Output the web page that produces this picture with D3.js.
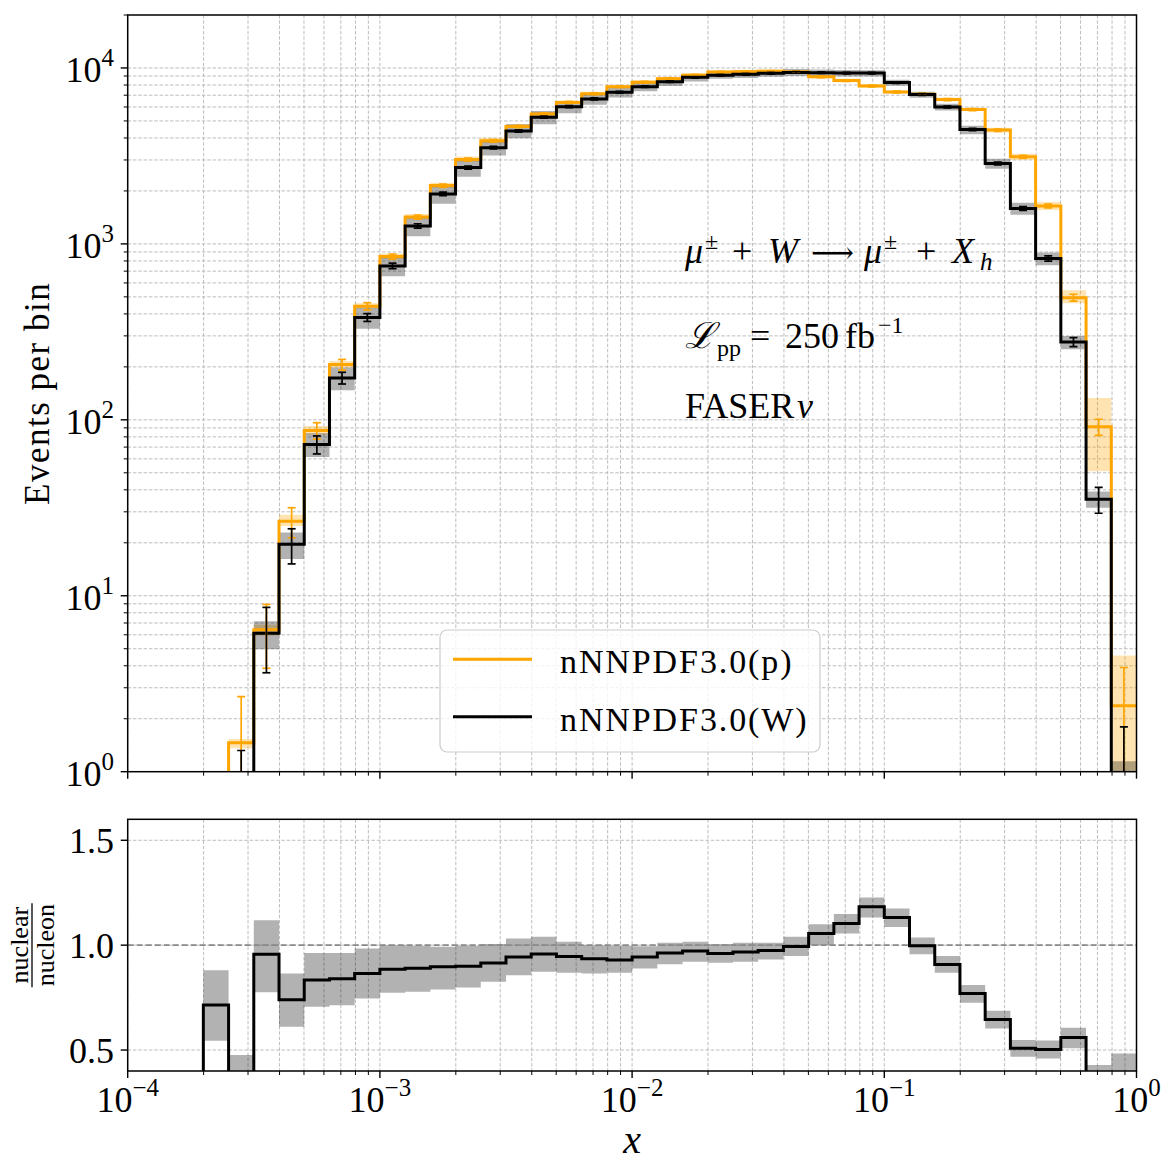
<!DOCTYPE html>
<html>
<head>
<meta charset="utf-8">
<script src="https://cdn.jsdelivr.net/npm/d3@7"></script>
<style>
body { margin: 0; background: #fff; }
svg text { font-family: "Liberation Serif", "DejaVu Serif", serif; fill: #000; }
</style>
</head>
<body>
<svg id="chart" width="1176" height="1176"></svg>
<script>
// bin edges in x (10 log bins per decade)
var binEdges = [
	1.000e-4, 1.259e-4, 1.585e-4, 1.995e-4, 2.512e-4, 3.162e-4, 3.981e-4, 5.012e-4, 6.310e-4, 7.943e-4,
	1.000e-3, 1.259e-3, 1.585e-3, 1.995e-3, 2.512e-3, 3.162e-3, 3.981e-3, 5.012e-3, 6.310e-3, 7.943e-3,
	1.000e-2, 1.259e-2, 1.585e-2, 1.995e-2, 2.512e-2, 3.162e-2, 3.981e-2, 5.012e-2, 6.310e-2, 7.943e-2,
	1.000e-1, 1.259e-1, 1.585e-1, 1.995e-1, 2.512e-1, 3.162e-1, 3.981e-1, 5.012e-1, 6.310e-1, 7.943e-1,
	1.0
];

// events per bin, nNNPDF3.0(p)
var protonEvents = [
	0, 0, 0, 0.28, 1.46, 6.4, 26.5, 87, 206, 442,
	847, 1422, 2144, 3018, 3852, 4645, 5480, 6370, 7135, 7830,
	8295, 8690, 9105, 9480, 9525, 9570, 9490, 8910, 8477, 7904,
	7297, 7081, 6608, 5801, 4433, 3128, 1642, 495, 91.2, 2.37
];
// events per bin, nNNPDF3.0(W)
var nuclearEvents = [
	0, 0, 0, 0.2, 0.57, 6.12, 19.6, 72.5, 173, 382,
	750, 1266, 1923, 2716, 3525, 4385, 5250, 6025, 6670, 7280,
	7830, 8360, 8850, 9100, 9210, 9330, 9430, 9400, 9350, 9350,
	8260, 7060, 6000, 4467, 2864, 1589, 826, 277, 35.4, 0.87
];

// statistical error bars
var protonErr = [
	0, 0, 0, 0.53, 1.21, 2.53, 5.15, 9.3, 14.4, 21.0,
	29.1, 37.7, 46.3, 54.9, 62.1, 68.2, 74.0, 79.8, 84.5, 88.5,
	91.1, 93.2, 95.4, 97.4, 97.6, 97.8, 97.4, 94.4, 92.1, 88.9,
	85.4, 84.1, 81.3, 76.2, 66.6, 55.9, 40.5, 22.2, 9.55, 1.54
];
var nuclearErr = [
	0, 0, 0, 0.45, 0.75, 2.47, 4.43, 8.5, 13.2, 19.5,
	27.4, 35.6, 43.9, 52.1, 59.4, 66.2, 72.5, 77.6, 81.7, 85.3,
	88.5, 91.4, 94.1, 95.4, 96.0, 96.6, 97.1, 97.0, 96.7, 96.7,
	90.9, 84.0, 77.5, 66.8, 53.5, 39.9, 28.7, 16.6, 5.95, 0.93
];

// PDF band of the proton prediction, relative to its central value
var protonBandLo = [
	null, null, null, 0.90, 0.93, 0.93, 0.94, 0.95, 0.96, 0.97,
	0.97, 0.97, 0.97, 0.97, 0.97, 0.98, 0.98, 0.98, 0.98, 0.98,
	0.98, 0.98, 0.98, 0.98, 0.98, 0.98, 0.98, 0.98, 0.98, 0.98,
	0.98, 0.98, 0.98, 0.98, 0.97, 0.96, 0.95, 0.93, 0.56, 0.20
];
var protonBandHi = [
	null, null, null, 1.10, 1.05, 1.07, 1.09, 1.06, 1.05, 1.04,
	1.04, 1.04, 1.04, 1.04, 1.04, 1.03, 1.025, 1.025, 1.025, 1.025,
	1.025, 1.025, 1.025, 1.025, 1.025, 1.025, 1.025, 1.025, 1.025, 1.025,
	1.025, 1.025, 1.025, 1.025, 1.03, 1.04, 1.055, 1.10, 1.46, 1.93
];

// nuclear PDF band divided by the proton central value
var ratioBandLo = [
	null, null, null, 0.544, 0.10, 0.776, 0.611, 0.706, 0.714, 0.746,
	0.773, 0.778, 0.789, 0.798, 0.825, 0.857, 0.873, 0.868, 0.865, 0.868,
	0.889, 0.909, 0.921, 0.916, 0.921, 0.932, 0.948, 1.000, 1.056, 1.132,
	1.087, 0.957, 0.868, 0.725, 0.603, 0.468, 0.460, 0.508, 0.347, 0.10
];
var ratioBandHi = [
	null, null, null, 0.880, 0.476, 1.119, 0.865, 0.963, 0.963, 0.984,
	1.000, 0.997, 0.992, 0.997, 1.005, 1.032, 1.040, 1.016, 1.000, 0.997,
	0.995, 1.011, 1.016, 1.005, 1.011, 1.011, 1.040, 1.100, 1.148, 1.227,
	1.175, 1.036, 0.948, 0.810, 0.687, 0.548, 0.545, 0.606, 0.429, 0.484
];

var xTickExp = [-4, -3, -2, -1, 0];
var yTickExp = [0, 1, 2, 3, 4];
var ratioTicks = ['0.5', '1.0', '1.5'];

var orange = '#FFA500';
var lineW = 3;
var floorVal = 1e-3;

var svg = d3.select('#chart');
var xLeft = 127.7, xRight = 1136.5;
var top1 = 15, bot1 = 771.7, top2 = 819.3, bot2 = 1071;

var x = d3.scaleLog().domain([1e-4, 1]).range([xLeft, xRight]);
var yTop = d3.scaleLog().domain([1, 2e4]).range([bot1, top1]);
var yRat = d3.scaleLinear().domain([0.4, 1.6]).range([bot2, top2]);

var defs = svg.append('defs');
defs.append('clipPath').attr('id', 'clipTop').append('rect')
	.attr('x', xLeft).attr('y', top1).attr('width', xRight - xLeft).attr('height', bot1 - top1);
defs.append('clipPath').attr('id', 'clipRat').append('rect')
	.attr('x', xLeft).attr('y', top2).attr('width', xRight - xLeft).attr('height', bot2 - top2);

function isMajor(v){
	let l = Math.log10(v);
	return Math.abs(l - Math.round(l)) < 1e-6;
}

function safeLog(v){
	return (v == null || v <= 0) ? floorVal : v;
}

// points for a step curve: one per bin plus the closing edge
function stepPoints(vals, start){
	let pts = [];
	for(let k = start; k < vals.length; k++)
		pts.push({x: binEdges[k], k: k, v: vals[k]});
	pts.push({x: binEdges[vals.length], k: vals.length - 1, v: vals[vals.length - 1]});
	return pts;
}

function drawGrid(g, yScale, yVals, y0, y1){
	x.ticks().forEach(function(t){
		g.append('line')
			.attr('x1', x(t)).attr('x2', x(t))
			.attr('y1', y0).attr('y2', y1)
			.attr('stroke', '#bdbdbd').attr('stroke-width', 1)
			.attr('stroke-dasharray', '3.5,1.8');
	});
	yVals.forEach(function(t){
		g.append('line')
			.attr('x1', xLeft).attr('x2', xRight)
			.attr('y1', yScale(t)).attr('y2', yScale(t))
			.attr('stroke', '#bdbdbd').attr('stroke-width', 1)
			.attr('stroke-dasharray', '3.5,1.8');
	});
}

function drawXTicks(g, yBase){
	x.ticks().forEach(function(t){
		let len = isMajor(t) ? 7 : 4;
		g.append('line')
			.attr('x1', x(t)).attr('x2', x(t))
			.attr('y1', yBase).attr('y2', yBase + len)
			.attr('stroke', '#000').attr('stroke-width', isMajor(t) ? 1.4 : 1);
	});
}

function drawErrorbars(g, vals, errs, yScale, color){
	for(let k = 0; k < vals.length; k++){
		if(vals[k] <= 0) continue;
		let cx = x(Math.sqrt(binEdges[k] * binEdges[k + 1]));
		let yHi = yScale(vals[k] + errs[k]);
		let yLo = yScale(safeLog(vals[k] - errs[k]));
		g.append('line')
			.attr('x1', cx).attr('x2', cx).attr('y1', yLo).attr('y2', yHi)
			.attr('stroke', color).attr('stroke-width', 1.7);
		[yLo, yHi].forEach(function(yy){
			g.append('line')
				.attr('x1', cx - 4).attr('x2', cx + 4).attr('y1', yy).attr('y2', yy)
				.attr('stroke', color).attr('stroke-width', 1.7);
		});
	}
}

// text built from pieces: [text, x, dy, size, italic]
function mathText(g, y, size, pieces){
	let t = g.append('text').attr('y', y).attr('font-size', size);
	pieces.forEach(function(p){
		let s = t.append('tspan').attr('x', p[1]).attr('dy', p[2]).text(p[0]);
		if(p[3]) s.attr('font-size', p[3]);
		if(p[4]) s.attr('font-style', 'italic');
	});
	return t;
}

// ---------- top panel ----------
var gTop = svg.append('g');
var gTopClip = gTop.append('g').attr('clip-path', 'url(#clipTop)');

var topGrid = yTop.ticks().filter(d => d > 1 && d < 2e4);
drawGrid(gTopClip.append('g'), yTop, topGrid, top1, bot1);

var areaTop = d3.area()
	.defined(d => d.lo != null)
	.x(d => x(d.x))
	.y0(d => yTop(safeLog(d.lo)))
	.y1(d => yTop(safeLog(d.hi)))
	.curve(d3.curveStepAfter);

var protonBand = stepPoints(protonEvents, 0).map(function(d){
	return {x: d.x, lo: protonBandLo[d.k] == null ? null : protonBandLo[d.k] * protonEvents[d.k],
		hi: protonBandHi[d.k] == null ? null : protonBandHi[d.k] * protonEvents[d.k]};
});
var nuclearBand = stepPoints(nuclearEvents, 0).map(function(d){
	return {x: d.x, lo: ratioBandLo[d.k] == null ? null : ratioBandLo[d.k] * protonEvents[d.k],
		hi: ratioBandHi[d.k] == null ? null : ratioBandHi[d.k] * protonEvents[d.k]};
});

gTopClip.append('path').attr('d', areaTop(protonBand))
	.attr('fill', orange).attr('fill-opacity', 0.3);
gTopClip.append('path').attr('d', areaTop(nuclearBand))
	.attr('fill', '#000').attr('fill-opacity', 0.3);

var lineTop = d3.line()
	.x(d => x(d.x))
	.y(d => yTop(safeLog(d.v)))
	.curve(d3.curveStepAfter);

gTopClip.append('path').attr('d', lineTop(stepPoints(protonEvents, 0)))
	.attr('fill', 'none').attr('stroke', orange).attr('stroke-width', lineW);
gTopClip.append('path').attr('d', lineTop(stepPoints(nuclearEvents, 0)))
	.attr('fill', 'none').attr('stroke', '#000').attr('stroke-width', lineW);

drawErrorbars(gTopClip.append('g'), protonEvents, protonErr, yTop, orange);
drawErrorbars(gTopClip.append('g'), nuclearEvents, nuclearErr, yTop, '#000');

// axes of top panel
drawXTicks(gTop, bot1);
yTop.ticks().forEach(function(t){
	if(t > 2e4) return;
	let len = isMajor(t) ? 7 : 4;
	gTop.append('line')
		.attr('x1', xLeft - len).attr('x2', xLeft)
		.attr('y1', yTop(t)).attr('y2', yTop(t))
		.attr('stroke', '#000').attr('stroke-width', isMajor(t) ? 1.4 : 1);
});
yTickExp.forEach(function(e){
	let t = gTop.append('text')
		.attr('x', 114).attr('y', yTop(Math.pow(10, e)) + 14)
		.attr('text-anchor', 'end').attr('font-size', 36);
	t.append('tspan').text('10');
	t.append('tspan').attr('dy', -16).attr('font-size', 25).text(e);
});
gTop.append('rect')
	.attr('x', xLeft).attr('y', top1).attr('width', xRight - xLeft).attr('height', bot1 - top1)
	.attr('fill', 'none').attr('stroke', '#000').attr('stroke-width', 1.5);

gTop.append('text')
	.attr('transform', `translate(49, ${(top1 + bot1) / 2}) rotate(-90)`)
	.attr('text-anchor', 'middle').attr('font-size', 35).attr('letter-spacing', 1.5)
	.text('Events per bin');

// annotation text
mathText(gTop, 263, 36, [
	['μ', 685, 0, null, true], ['±', 705, -14, 24], ['+', 732, 14], ['W', 768, 0, null, true],
	['⟶', 811, 0, 30], ['μ', 864, 0, null, true], ['±', 884, -14, 24], ['+', 916, 14],
	['X', 952, 0, null, true], ['h', 980, 7, 25, true]
]);
mathText(gTop, 348, 36, [
	['ℒ', 685, 0, null, true], ['pp', 717, 8, 24], ['=', 750, -8], ['250', 785, 0],
	['fb', 845, 0], ['−1', 878, -15, 24]
]);
mathText(gTop, 418, 36, [['FASER', 685, 0], ['ν', 797, 0, null, true]]);

// legend
var leg = gTop.append('g');
leg.append('rect')
	.attr('x', 440).attr('y', 630).attr('width', 380).attr('height', 122).attr('rx', 7)
	.attr('fill', '#fff').attr('fill-opacity', 0.8)
	.attr('stroke', '#cccccc').attr('stroke-width', 1.2);
var legItems = [{label: 'nNNPDF3.0(p)', color: orange, y: 659.3},
	{label: 'nNNPDF3.0(W)', color: '#000', y: 716.7}];
legItems.forEach(function(d){
	leg.append('line')
		.attr('x1', 453).attr('x2', 532).attr('y1', d.y).attr('y2', d.y)
		.attr('stroke', d.color).attr('stroke-width', lineW);
	leg.append('text')
		.attr('x', 560).attr('y', d.y + 14).attr('font-size', 34)
		.attr('letter-spacing', 1.9)
		.text(d.label);
});

// ---------- ratio panel ----------
var gRat = svg.append('g');
var gRatClip = gRat.append('g').attr('clip-path', 'url(#clipRat)');
drawGrid(gRatClip.append('g'), yRat, [0.5, 1.0, 1.5], top2, bot2);

var ratioBand = stepPoints(ratioBandLo, 3).map(function(d){
	return {x: d.x, lo: ratioBandLo[d.k], hi: ratioBandHi[d.k]};
});
gRatClip.append('path')
	.attr('d', d3.area()
		.x(d => x(d.x))
		.y0(d => yRat(d.lo))
		.y1(d => yRat(d.hi))
		.curve(d3.curveStepAfter)(ratioBand))
	.attr('fill', '#000').attr('fill-opacity', 0.3);

gRatClip.append('line')
	.attr('x1', xLeft).attr('x2', xRight).attr('y1', yRat(1)).attr('y2', yRat(1))
	.attr('stroke', '#8a8a8a').attr('stroke-width', 1.6).attr('stroke-dasharray', '6,3');

var ratioVals = nuclearEvents.map((v, k) => protonEvents[k] > 0 ? v / protonEvents[k] : 0);
var ratioPts = [{x: binEdges[3], v: 0}].concat(stepPoints(ratioVals, 3));
gRatClip.append('path')
	.attr('d', d3.line().x(d => x(d.x)).y(d => yRat(d.v)).curve(d3.curveStepAfter)(ratioPts))
	.attr('fill', 'none').attr('stroke', '#000').attr('stroke-width', lineW);

drawXTicks(gRat, bot2);
ratioTicks.forEach(function(s){
	let v = +s;
	gRat.append('line')
		.attr('x1', xLeft - 7).attr('x2', xLeft).attr('y1', yRat(v)).attr('y2', yRat(v))
		.attr('stroke', '#000').attr('stroke-width', 1.4);
	gRat.append('text')
		.attr('x', 114).attr('y', yRat(v) + 13)
		.attr('text-anchor', 'end').attr('font-size', 36)
		.text(s);
});
xTickExp.forEach(function(e){
	let t = gRat.append('text')
		.attr('x', x(Math.pow(10, e))).attr('y', 1112)
		.attr('text-anchor', 'middle').attr('font-size', 36);
	t.append('tspan').text('10');
	t.append('tspan').attr('dy', -16).attr('font-size', 25).text(String(e).replace('-', '−'));
});
gRat.append('rect')
	.attr('x', xLeft).attr('y', top2).attr('width', xRight - xLeft).attr('height', bot2 - top2)
	.attr('fill', 'none').attr('stroke', '#000').attr('stroke-width', 1.5);

// ratio y label as a fraction
var fracG = gRat.append('g').attr('transform', `translate(0, ${yRat(1)}) rotate(-90)`);
fracG.append('text').attr('x', 0).attr('y', 28).attr('text-anchor', 'middle')
	.attr('font-size', 26).text('nuclear');
fracG.append('text').attr('x', 0).attr('y', 54).attr('text-anchor', 'middle')
	.attr('font-size', 26).text('nucleon');
fracG.append('line').attr('x1', -42).attr('x2', 42).attr('y1', 32).attr('y2', 32)
	.attr('stroke', '#000').attr('stroke-width', 1.3);

svg.append('text')
	.attr('x', (xLeft + xRight) / 2).attr('y', 1153)
	.attr('text-anchor', 'middle').attr('font-size', 40).attr('font-style', 'italic')
	.text('x');
</script>
</body>
</html>
